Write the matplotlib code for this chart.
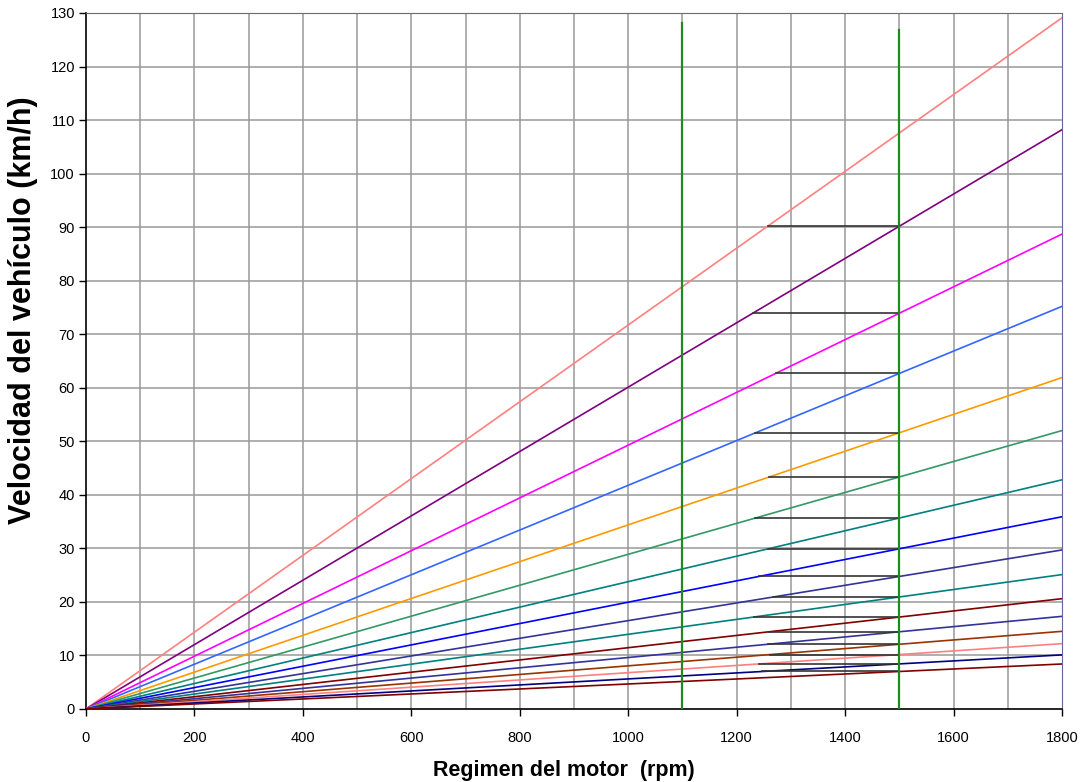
import matplotlib
matplotlib.use("Agg")
import matplotlib.pyplot as plt
import numpy as np

plt.rcParams['font.family'] = ['Liberation Sans', 'DejaVu Sans']

# speed of each gear at 1800 rpm (km/h), highest gear first
rpm_max = 1800
v_max = [129.1, 108.2, 88.7, 75.2, 61.9, 52.0, 42.8, 35.9,
         29.7, 25.1, 20.6, 17.3, 14.5, 12.2, 10.1, 8.4]
colors = ['#FF8080', '#800080', '#FF00FF', '#3366FF', '#FF9900', '#339966',
          '#008080', '#0000FF', '#333399', '#008080', '#800000', '#333399',
          '#993300', '#FF8080', '#000080', '#800000']

# shift rpm and green marker lines
shift_rpm = 1500
green_x = [1100, 1500]
green_top = [128.1, 126.8]

xticks = list(range(0, 1801, 200))
yticks = list(range(0, 131, 10))

fig = plt.figure(figsize=(10.83, 7.82), dpi=100)
ax = fig.add_axes([0.0794, 0.0934, 0.9012, 0.89])

# grid
for x in range(100, 1800, 100):
    ax.axvline(x, color='#999999', lw=1.1, zorder=1)
for y in range(10, 130, 10):
    ax.axhline(y, color='#999999', lw=1.1, zorder=1)

# gear lines
for v, c in zip(v_max, colors):
    ax.plot([0, rpm_max], [0, v], color=c, lw=1.2, zorder=3)

# horizontal shift lines: from previous gear intersection to shift rpm
for i in range(1, len(v_max)):
    v_shift = v_max[i] * shift_rpm / rpm_max
    x_start = v_shift * rpm_max / v_max[i - 1]
    ax.plot([x_start, shift_rpm], [v_shift, v_shift], color='#333333', lw=1.2, zorder=4)

# green vertical lines
for x, t in zip(green_x, green_top):
    ax.plot([x, x], [0, t], color='#1F8B1F', lw=1.6, zorder=5)

ax.set_xlim(0, 1800)
ax.set_ylim(0, 130)
ax.set_xticks(xticks)
ax.set_yticks(yticks)
ax.tick_params(axis='both', direction='out', length=5, width=1, labelsize=10.5)
ax.tick_params(axis='x', pad=11)
ax.tick_params(axis='y', pad=3)
ax.spines['top'].set_color('#666699')
ax.spines['right'].set_color('#666699')
ax.spines['left'].set_linewidth(1.2)
ax.spines['bottom'].set_linewidth(1.2)

ax.set_xlabel('Regimen del motor  (rpm)', fontsize=15.5, fontweight='bold')
ax.xaxis.set_label_coords(0.49, -0.074)
ax.set_ylabel('Velocidad del vehículo (km/h)', fontsize=22, fontweight='bold')
ax.yaxis.set_label_coords(-0.049, 0.573)

fig.savefig('out.png', dpi=100)
